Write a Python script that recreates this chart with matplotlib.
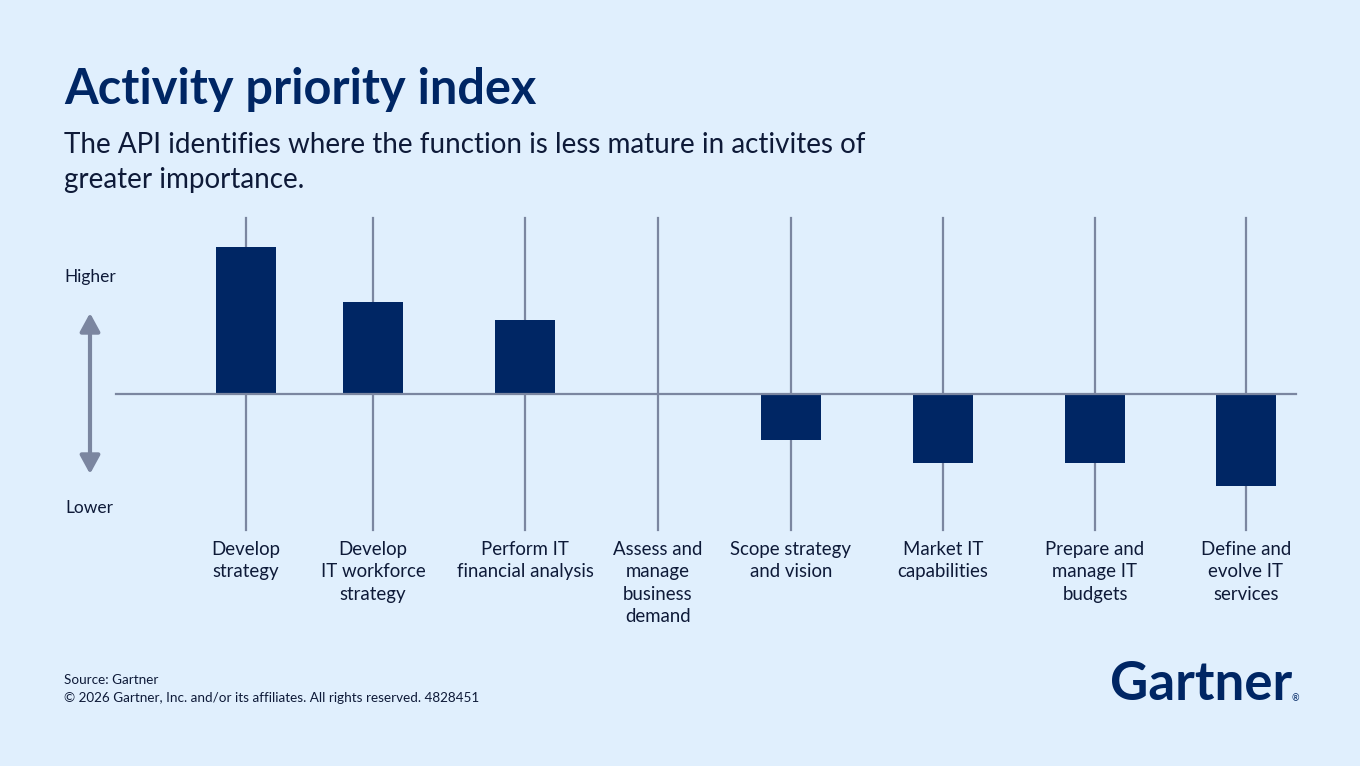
import matplotlib
matplotlib.use("Agg")
import matplotlib.pyplot as plt

# ---- data ----
categories = [
    "Develop\nstrategy",
    "Develop\nIT workforce\nstrategy",
    "Perform IT\nfinancial analysis",
    "Assess and\nmanage\nbusiness\ndemand",
    "Scope strategy\nand vision",
    "Market IT\ncapabilities",
    "Prepare and\nmanage IT\nbudgets",
    "Define and\nevolve IT\nservices",
]
values = [3.2, 2.0, 1.6, 0.0, -1.0, -1.5, -1.5, -2.0]
# horizontal placement of categories (layout, uneven spacing as in original)
positions = [246, 373, 525, 658, 791, 943, 1095, 1246]

title = "Activity priority index"
subtitle_lines = ["The API identifies where the function is less mature in activites of",
                  "greater importance."]
source_lines = ["Source: Gartner",
                "\u00a9 2026 Gartner, Inc. and/or its affiliates. All rights reserved. 4828451"]

BG = "#E0EFFD"
NAVY = "#002664"
GRID = "#7B86A0"
TEXT = "#0E1A38"

W, H = 1360, 766
fig = plt.figure(figsize=(W / 100, H / 100), dpi=100, facecolor=BG)
ax = fig.add_axes([0, 0, 1, 1])
ax.set_facecolor(BG)
unit = 46.0  # pixels per value unit
base_px = 372  # baseline, pixels from bottom
ax.set_xlim(0, W)
ax.set_ylim(-base_px / unit, (H - base_px) / unit)
ax.axis("off")

fam = ["Lato", "DejaVu Sans"]

def py(p):  # pixel-from-top -> data y
    return (H - p - base_px) / unit

# vertical lines
for x in positions:
    ax.plot([x, x], [py(218), py(530)], color=GRID, lw=1.6, zorder=1)
# baseline
ax.plot([116, 1296], [0, 0], color=GRID, lw=1.6, zorder=3)
# bars
ax.bar(positions, values, width=60, color=NAVY, zorder=2)

# category labels
for x, lab in zip(positions, categories):
    ax.text(x, py(541), lab, ha="center", va="top", fontsize=13.4,
            color=TEXT, family=fam, linespacing=1.38)

# arrow and Higher/Lower
ax.annotate("", xy=(90, py(313)), xytext=(90, py(474)),
            arrowprops=dict(arrowstyle="<|-|>,head_length=1.1,head_width=0.6",
                            color=GRID, lw=3, shrinkA=0, shrinkB=0))
ax.text(90, py(277), "Higher", ha="center", va="center", fontsize=12.5,
        color=TEXT, family=fam)
ax.text(89, py(508), "Lower", ha="center", va="center", fontsize=12.5,
        color=TEXT, family=fam)

# titles
fig.text(64 / W, 1 - 104 / H, title, ha="left", va="baseline", fontsize=35,
         fontweight="bold", color=NAVY, family=fam)
for i, line in enumerate(subtitle_lines):
    fig.text(64 / W, 1 - (153 + 35 * i) / H, line, ha="left", va="baseline",
             fontsize=20, color=TEXT, family=fam)

# footer
for i, line in enumerate(source_lines):
    fig.text(64 / W, 1 - (684 + 18 * i) / H, line, ha="left", va="baseline",
             fontsize=9.75, color=TEXT, family=fam)

# logo
fig.text(1110 / W, 1 - 700 / H, "Gartner", ha="left", va="baseline",
         fontsize=38, fontweight="bold", color=NAVY, family=fam)
fig.text(1292 / W, 1 - 701 / H, "\u00ae", ha="left", va="baseline",
         fontsize=6.5, color=NAVY, family=fam)

fig.savefig("out.png", dpi=100, facecolor=BG)
